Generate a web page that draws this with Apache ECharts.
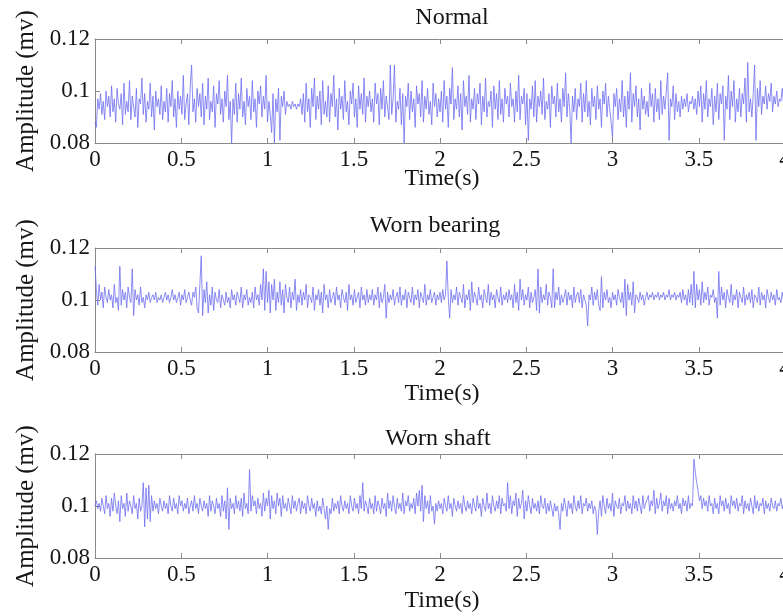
<!DOCTYPE html>
<html>
<head>
<meta charset="utf-8">
<script src="https://cdn.jsdelivr.net/npm/echarts@6/dist/echarts.min.js"></script>
<style>
  html, body { margin: 0; padding: 0; background: #fff; }
  #chart { width: 783px; height: 616px; }
</style>
</head>
<body>
<div id="chart"></div>
<script>
// Vibration amplitude records, one sample every 0.008 s from 0 to 4 s.
// Amplitudes are given in units of 0.001 mv.
const SAMPLE_STEP = 0.008;
const AMP_UNIT = 0.001;

const panelTitles = ['Normal', 'Worn bearing', 'Worn shaft'];
const xTicks = [0, 0.5, 1, 1.5, 2, 2.5, 3, 3.5, 4];
const yTicks = [0.08, 0.1, 0.12];
const xName = 'Time(s)';
const yName = 'Amplitude (mv)';

const normal = [
  88,86,97,93,99,91,96,89,100,94, 98,90,102,92,97,88,101,95,93,99, 87,103,91,96,92,104,89,98,94,90, 101,86,97,95,105,91,99,88,96,93, 103,90,98,85,100,94,97,91,102,89,
  96,92,101,88,99,94,104,90,97,86, 100,93,98,91,106,89,95,99,87,102, 110,92,97,88,101,94,99,90,103,87, 98,93,105,89,96,92,102,86,99,95, 104,91,97,88,100,94,106,89,96,80,
  97,91,103,88,99,93,105,90,96,87, 101,94,98,89,104,92,97,86,100,95, 102,90,98,93,106,88,96,91,84,99, 80,97,92,101,81,98,94,100,91,96, 94,95,93,96,94,95,93,95,94,97,
  91,99,88,103,92,97,86,101,94,105, 89,98,93,100,87,104,91,96,90,102, 88,99,94,106,90,97,85,101,93,98, 89,104,92,96,87,100,95,103,90,97, 86,102,93,99,91,105,88,98,94,100,
  92,97,88,103,95,99,87,101,93,104, 90,98,94,89,110,91,97,110,88,96, 93,101,87,99,80,98,94,103,89,100, 92,97,86,102,95,99,90,104,88,98, 93,101,91,96,87,103,94,99,90,97,
  92,100,88,104,93,98,86,101,95,109, 89,97,93,102,90,99,85,104,94,98, 91,106,88,97,93,101,89,99,95,103, 87,98,92,105,90,96,94,100,86,102, 93,99,89,104,91,97,88,101,95,98,
  90,103,94,97,88,100,92,106,89,98, 95,101,87,99,81,97,93,102,90,104, 88,98,94,100,91,105,89,96,93,99, 86,102,95,98,90,103,92,97,88,101, 94,107,90,99,93,80,98,92,101,89,
  97,94,103,88,99,92,104,90,96,87, 101,94,98,89,102,93,97,86,100,95, 103,90,98,93,88,82,99,94,101,89, 97,92,104,90,98,86,100,93,107,88, 99,94,102,90,97,85,101,93,98,91,
  96,90,103,94,99,88,101,92,97,89, 104,91,98,93,100,107,81,97,94,102, 89,99,92,96,90,98,93,97,94,99, 92,96,95,98,93,97,91,100,94,102, 88,99,93,104,90,97,94,101,87,98,
  92,103,89,99,95,102,81,98,93,106, 89,100,94,104,88,97,92,101,90,99, 95,105,88,111,92,97,90,99,110,81, 101,94,104,91,98,95,102,93,99,96, 103,92,98,95,100,94,97,96,101,95,
  98
];

const wornBearing = [
  113,104,98,106,100,103,97,105,101,99, 104,100,102,97,106,99,101,96,113,98, 104,100,103,97,105,101,99,112,94,104, 100,102,98,105,99,101,97,102,100,103, 99,101,102,100,103,99,101,100,102,99,
  101,103,100,102,99,101,104,100,102,99, 101,103,98,102,100,104,99,101,103,100, 98,103,101,105,97,95,106,117,94,104, 99,107,95,102,98,105,96,103,100,99, 104,97,102,100,98,103,99,101,97,104,
  100,102,98,103,101,99,105,97,102,100, 104,98,101,99,103,97,105,100,102,98, 106,100,112,96,111,99,107,95,106,100, 108,96,103,99,107,98,104,95,106,101, 99,105,97,103,100,108,96,102,99,104,
  98,103,100,106,97,102,101,99,105,96, 102,100,104,98,103,95,106,100,102,97, 104,99,101,103,98,105,100,102,97,104, 101,99,103,96,106,100,102,98,104,99, 101,103,97,105,100,102,98,104,99,102,
  100,104,98,102,100,105,97,103,99,101, 106,93,103,99,102,100,104,98,101,103, 99,105,98,102,100,104,97,103,101,99, 105,98,102,100,104,97,103,101,99,106, 98,102,100,104,99,101,103,98,102,100,
  103,99,104,100,102,115,101,93,104,99, 102,100,105,98,103,101,99,106,97,102, 100,104,96,107,99,103,101,98,105,100, 102,97,104,101,99,106,98,103,100,102, 97,104,101,99,105,98,102,100,103,99,
  104,100,102,97,106,99,103,96,108,100, 104,98,102,100,105,97,103,99,101,104, 96,112,95,105,99,102,100,106,98,103, 101,97,112,97,103,100,105,98,102,99, 101,104,98,103,100,102,97,105,99,102,
  103,99,104,97,102,100,98,90,102,100, 105,98,103,100,104,98,96,109,97,103, 100,104,99,101,97,103,100,102,98,104, 101,99,103,97,108,94,106,100,103,98, 107,95,102,101,99,103,100,102,98,101,
  103,100,102,101,103,100,102,101,103,100, 102,101,103,100,102,101,104,100,102,101, 103,100,102,101,103,99,104,100,102,98, 104,99,106,98,111,97,106,100,104,98, 107,99,103,100,105,98,102,101,104,99,
  101,93,111,98,105,100,103,97,104,101, 99,106,98,102,100,104,97,103,101,99, 105,98,102,100,103,99,104,97,102,101, 99,105,98,103,100,102,97,104,101,99, 103,100,102,98,104,100,101,99,103,100,
  101
];

const wornShaft = [
  100,102,99,101,98,103,100,97,104,99, 101,96,103,98,105,100,97,102,94,104, 99,101,96,105,98,102,100,97,104,99, 101,95,103,98,100,109,92,107,95,108, 94,104,98,102,99,101,97,103,100,98,
  102,99,101,97,104,100,98,103,99,101, 97,104,100,102,98,101,99,103,97,100, 102,98,104,99,101,97,103,100,98,102, 99,101,96,104,98,102,100,97,103,99, 101,96,104,98,102,95,107,91,103,99,
  101,97,104,99,102,98,103,96,105,99, 101,97,114,98,104,100,102,97,103,99, 101,96,105,98,103,100,106,95,104,99, 102,97,105,100,103,96,104,99,101,98, 103,100,97,104,99,102,98,101,103,97,
  102,99,101,97,104,100,98,103,99,101, 96,102,98,100,97,103,99,95,100,91, 99,97,103,98,101,99,102,97,104,100, 98,102,99,101,97,104,100,98,103,99, 101,97,104,99,109,98,102,100,97,103,
  99,101,97,104,98,102,100,97,103,99, 101,96,105,99,102,98,104,100,97,103, 99,101,98,105,97,102,100,104,98,101, 99,103,97,105,100,106,98,108,94,104, 99,102,97,104,98,100,93,101,98,102,
  99,101,97,103,100,98,104,99,101,96, 103,100,98,102,99,101,97,104,100,98, 102,99,101,97,103,100,98,104,99,101, 96,103,100,98,105,99,101,97,104,100, 98,102,99,104,97,103,100,101,98,109,
  99,104,97,102,100,105,96,103,99,101, 106,95,102,98,104,100,97,103,99,101, 98,102,97,104,100,99,103,97,101,98, 102,99,96,101,98,100,97,91,101,98, 103,100,96,102,99,101,97,104,100,98,
  102,99,104,97,101,100,103,98,101,99, 102,97,100,98,89,98,102,96,104,100, 97,103,99,101,98,105,96,102,100,99, 103,97,101,100,104,98,102,99,101,97, 104,99,102,98,103,100,97,104,99,101,
  101,104,98,102,100,106,97,103,99,101, 105,98,102,100,104,97,103,99,101,98, 102,100,104,99,101,97,103,100,102,98, 104,99,101,100,118,113,109,106,102,104, 99,103,100,102,98,104,100,101,97,103,
  99,101,97,104,100,102,98,103,99,101, 97,104,100,102,99,103,98,101,100,104, 97,102,99,101,98,103,100,97,104,99, 102,98,101,100,103,97,102,99,101,98, 103,100,99,102,98,101,100,103,99,101,
  100
];

const seriesValues = [normal, wornBearing, wornShaft];

// Panel geometry (pixels); the plot boxes run slightly past the right page edge
const plotLeft = 95;
const plotWidth = 690;
const plotHeight = 104;
const plotTops = [39, 248, 454];
const titlePos = [[452, 18], [435, 226], [438, 439]];
const xNameY = [179, 394, 601];

const FONT = '"Liberation Serif", "Times New Roman", serif';
const FRAME = '#8a8a8a';
const TEXT = '#151515';
const LINE = '#6e6ef0';

const grids = [], xAxes = [], yAxes = [], series = [], texts = [];
const fmt = v => String(parseFloat(v.toFixed(2)));

seriesValues.forEach((vals, k) => {
  grids.push({
    left: plotLeft, top: plotTops[k], width: plotWidth, height: plotHeight,
    containLabel: false, outerBoundsMode: 'none'
  });

  // bottom axis with tick labels
  xAxes.push({
    type: 'value', gridIndex: k, position: 'bottom',
    min: xTicks[0], max: xTicks[xTicks.length - 1], interval: 0.5,
    axisLine: { show: true, onZero: false, lineStyle: { color: FRAME, width: 1 } },
    axisTick: { show: true, inside: true, length: 5, lineStyle: { color: FRAME } },
    axisLabel: { show: true, margin: 5, color: TEXT, fontFamily: FONT, fontSize: 23, formatter: fmt },
    splitLine: { show: false }
  });
  // top edge of the box, ticks pointing inward
  xAxes.push({
    type: 'value', gridIndex: k, position: 'top',
    min: xTicks[0], max: xTicks[xTicks.length - 1], interval: 0.5,
    axisLine: { show: true, onZero: false, lineStyle: { color: FRAME, width: 1 } },
    axisTick: { show: true, inside: true, length: 5, lineStyle: { color: FRAME } },
    axisLabel: { show: false },
    splitLine: { show: false }
  });
  yAxes.push({
    type: 'value', gridIndex: k,
    min: yTicks[0], max: yTicks[yTicks.length - 1], interval: 0.02,
    axisLine: { show: true, onZero: false, lineStyle: { color: FRAME, width: 1 } },
    axisTick: { show: true, inside: true, length: 5, lineStyle: { color: FRAME } },
    axisLabel: { show: true, margin: 5, color: TEXT, fontFamily: FONT, fontSize: 23, formatter: fmt },
    splitLine: { show: false }
  });

  series.push({
    type: 'line',
    xAxisIndex: 2 * k, yAxisIndex: k,
    data: vals.map((v, i) => [i * SAMPLE_STEP, v * AMP_UNIT]),
    symbol: 'none',
    lineStyle: { color: LINE, width: 0.8 },
    clip: true,
    animation: false
  });

  texts.push({
    type: 'text', x: titlePos[k][0], y: titlePos[k][1],
    style: { text: panelTitles[k], fill: TEXT, font: '24px ' + FONT, textAlign: 'center', textVerticalAlign: 'middle' }
  });
  texts.push({
    type: 'text', x: 442, y: xNameY[k],
    style: { text: xName, fill: TEXT, font: '24px ' + FONT, textAlign: 'center', textVerticalAlign: 'middle' }
  });
  texts.push({
    type: 'text', x: 26, y: plotTops[k] + plotHeight / 2, rotation: Math.PI / 2,
    style: { text: yName, fill: TEXT, font: '25px ' + FONT, textAlign: 'center', textVerticalAlign: 'middle' }
  });
});

const chart = echarts.init(document.getElementById('chart'), null, { renderer: 'canvas' });
chart.setOption({
  backgroundColor: '#ffffff',
  animation: false,
  grid: grids,
  xAxis: xAxes,
  yAxis: yAxes,
  series: series,
  graphic: texts
});
</script>
</body>
</html>
